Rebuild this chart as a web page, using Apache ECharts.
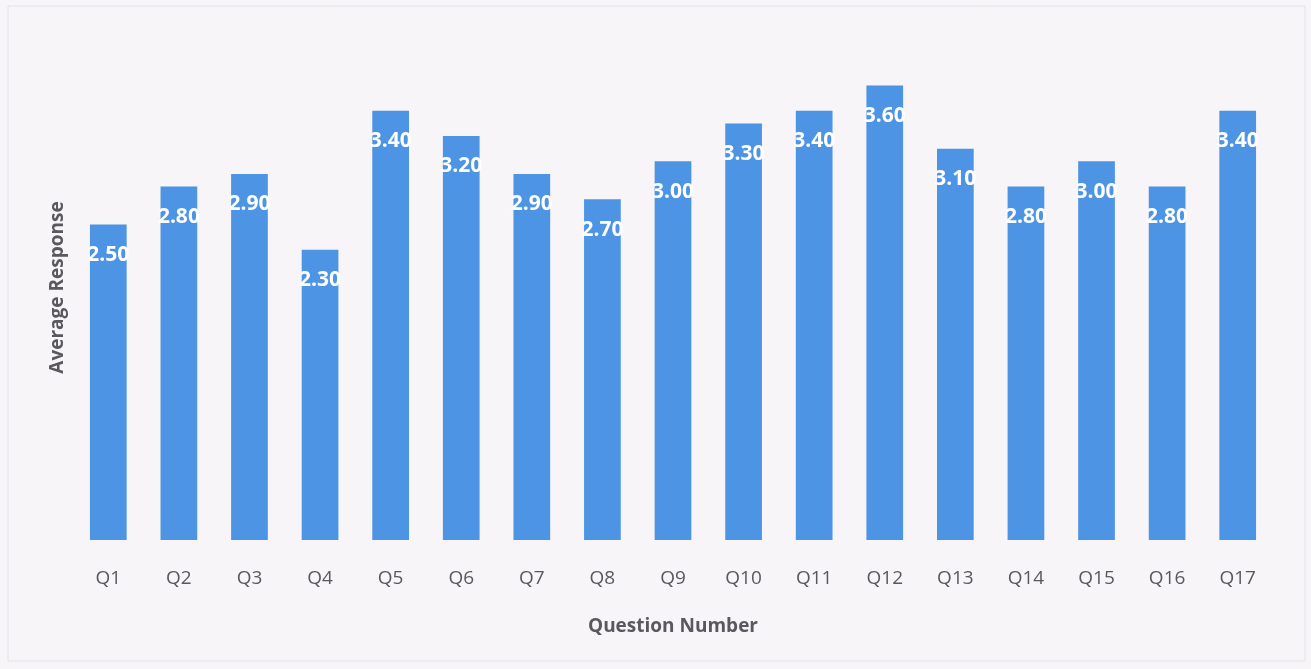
<!DOCTYPE html>
<html>
<head>
<meta charset="utf-8">
<script src="https://cdn.jsdelivr.net/npm/echarts@6/dist/echarts.min.js"></script>
<style>
html,body{margin:0;padding:0;background:#ffffff;}
#chart{width:1311px;height:669px;}
</style>
</head>
<body>
<div id="chart"></div>
<script>
const categories = ['Q1','Q2','Q3','Q4','Q5','Q6','Q7','Q8','Q9','Q10','Q11','Q12','Q13','Q14','Q15','Q16','Q17'];
const averageResponse = [2.5, 2.8, 2.9, 2.3, 3.4, 3.2, 2.9, 2.7, 3.0, 3.3, 3.4, 3.6, 3.1, 2.8, 3.0, 2.8, 3.4];
const xAxisTitle = 'Question Number';
const yAxisTitle = 'Average Response';

const chart = echarts.init(document.getElementById('chart'));
chart.setOption({
  backgroundColor: '#f7f5f8',
  animation: false,
  graphic: [{
    type: 'rect',
    shape: { x: 8, y: 6, width: 1297, height: 655 },
    style: { fill: 'none', stroke: '#e4e2e8', lineWidth: 1 },
    silent: true
  }],
  grid: { left: 73, right: 38, top: 35, bottom: 129 },
  xAxis: {
    type: 'category',
    data: categories,
    name: xAxisTitle,
    nameLocation: 'middle',
    nameGap: 77,
    nameTextStyle: { fontFamily: 'Open Sans', fontSize: 19, fontWeight: 'bold', color: '#5a585e' },
    axisLine: { show: false },
    axisTick: { show: false },
    axisLabel: { margin: 29, fontFamily: 'Open Sans', fontSize: 19, color: '#5a585e' }
  },
  yAxis: {
    type: 'value',
    min: 0,
    max: 4,
    interval: 1,
    name: yAxisTitle,
    nameLocation: 'middle',
    nameGap: 6,
    nameTextStyle: { fontFamily: 'Open Sans', fontSize: 19, fontWeight: 'bold', color: '#5a585e' },
    axisLine: { show: false },
    axisTick: { show: false },
    axisLabel: { show: false },
    splitLine: { show: false }
  },
  series: [{
    type: 'bar',
    data: averageResponse,
    barWidth: '52%',
    itemStyle: { color: '#4d94e4' },
    label: {
      show: true,
      position: 'insideTop',
      distance: 20,
      formatter: p => p.value.toFixed(2),
      fontFamily: 'Open Sans',
      fontSize: 21,
      fontWeight: 'bold',
      color: '#ffffff'
    }
  }]
});
</script>
</body>
</html>
